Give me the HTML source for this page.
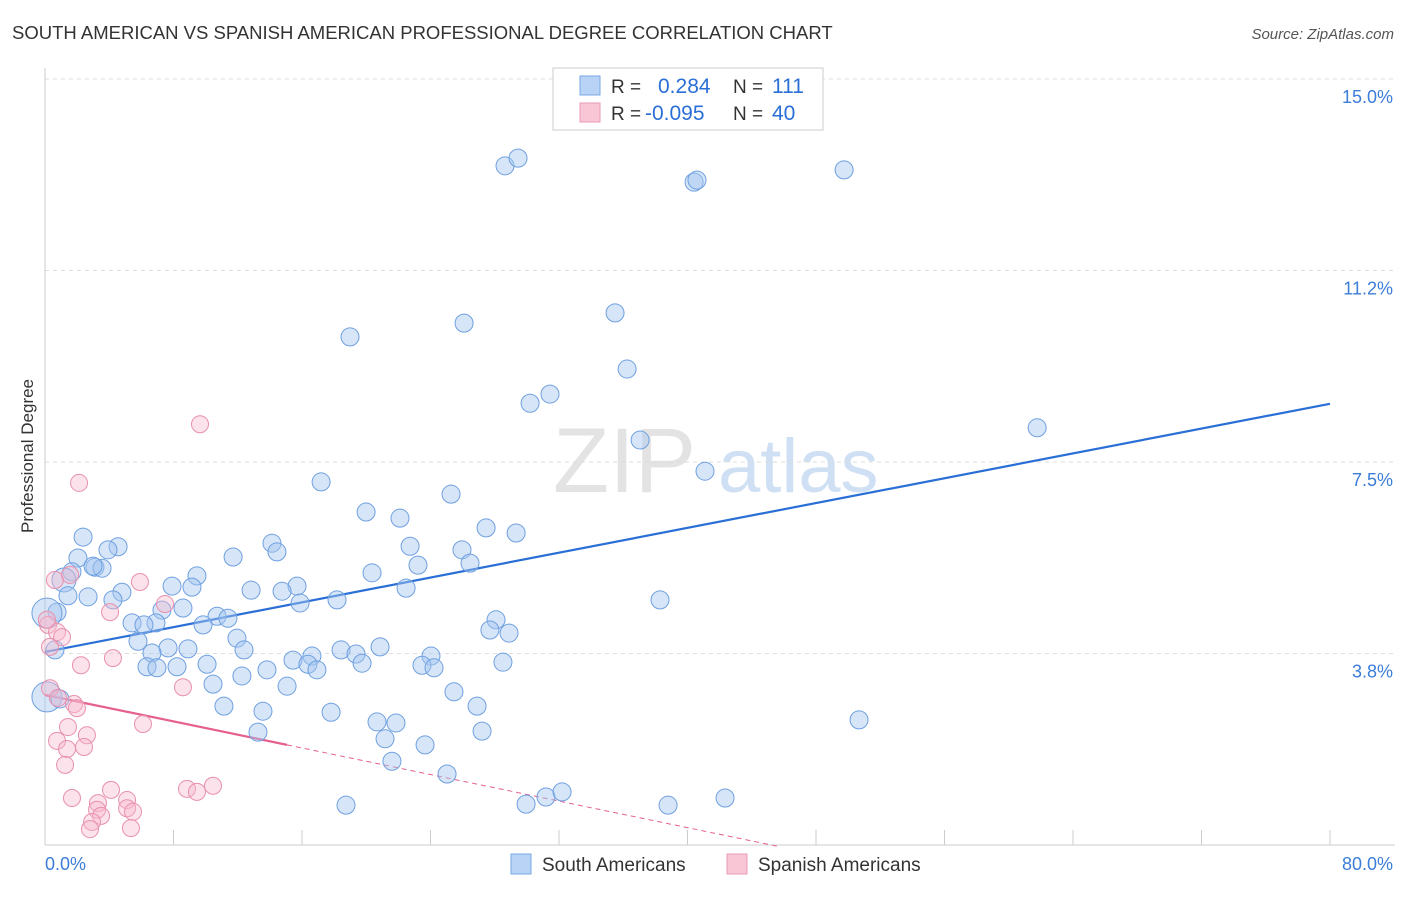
<!DOCTYPE html>
<html><head><meta charset="utf-8">
<style>
body{margin:0;background:#fff;font-family:"Liberation Sans",sans-serif;}
svg text{font-family:"Liberation Sans",sans-serif;}
</style></head>
<body>
<svg id="chart" width="1406" height="892" viewBox="0 0 1406 892">
<text x="12" y="39" font-size="18.5" fill="#333">SOUTH AMERICAN VS SPANISH AMERICAN PROFESSIONAL DEGREE CORRELATION CHART</text>
<text x="1394" y="39" font-size="15" fill="#555" font-style="italic" text-anchor="end">Source: ZipAtlas.com</text>
<text x="33" y="456" font-size="17" fill="#333" text-anchor="middle" transform="rotate(-90 33 456)">Professional Degree</text>
<g>
<text x="553" y="492" font-size="92" fill="#d8d8d8" font-family="Liberation Serif,serif" opacity="0.7">ZIP</text>
<text x="718" y="492" font-size="76" fill="#bcd4f0" opacity="0.7">atlas</text>
</g>
<g id="grid"></g>
<g id="axes"></g>
<g id="lines"></g>
<g id="pts"></g>
<g>
<rect x="553" y="68" width="270" height="62" fill="#fff" stroke="#ccc"/>
<rect x="580" y="76" width="20" height="19" fill="#b8d3f5" stroke="#7aa8e6"/>
<rect x="580" y="103" width="20" height="19" fill="#f9c6d6" stroke="#eb9ab5"/>
<text x="611" y="93" font-size="19" fill="#333">R =</text>
<text x="658" y="93" font-size="21" fill="#2a6fd6">0.284</text>
<text x="733" y="93" font-size="19" fill="#333">N =</text>
<text x="772" y="93" font-size="21" fill="#2a6fd6">111</text>
<text x="611" y="120" font-size="19" fill="#333">R =</text>
<text x="645" y="120" font-size="21" fill="#2a6fd6">-0.095</text>
<text x="733" y="120" font-size="19" fill="#333">N =</text>
<text x="772" y="120" font-size="21" fill="#2a6fd6">40</text>
</g>
<g>
<rect x="511" y="854" width="20" height="20" fill="#b8d3f5" stroke="#7aa8e6"/>
<text x="542" y="871" font-size="19" fill="#333">South Americans</text>
<rect x="727" y="854" width="20" height="20" fill="#f9c6d6" stroke="#eb9ab5"/>
<text x="758" y="871" font-size="19" fill="#333">Spanish Americans</text>
</g>
</svg>
<script>
const yTicks=[3.75,7.5,11.25,15];
const yTickLabels=["3.8%","7.5%","11.2%","15.0%"];
const xTicks=[0,8,16,24,32,40,48,56,64,72,80];
const blueX=[28.64,29.45,40.41,40.59,49.75,18.99,26.09,35.49,36.24,30.20,31.44,37.05,41.09,61.77,17.19,25.28,19.99,22.10,27.46,29.33,2.37,4.55,3.92,2.05,11.71,14.13,14.44,22.73,25.96,26.46,23.22,1.68,3.11,3.55,2.99,9.46,20.36,1.18,7.91,15.69,14.76,9.15,12.83,22.48,4.79,2.68,1.43,4.23,7.28,8.59,15.88,18.18,38.29,0.75,0.12,10.71,11.39,9.84,5.42,6.91,6.16,28.08,27.70,28.89,5.79,11.95,7.66,8.90,6.66,12.39,0.62,18.43,19.36,20.86,15.44,16.62,19.74,24.03,10.09,8.22,6.35,6.97,16.37,16.93,23.47,24.22,28.51,13.82,12.26,10.46,15.07,25.46,26.90,11.14,13.57,17.81,20.67,21.85,50.68,13.26,27.21,21.17,23.66,21.60,25.03,18.74,29.95,31.19,32.19,38.79,42.34,0.12,0.93];
const blueY=[13.30,13.45,12.98,13.02,13.22,9.95,10.22,10.42,9.32,8.65,8.83,7.93,7.32,8.17,7.11,6.87,6.52,6.40,6.21,6.11,6.03,5.84,5.78,5.62,5.64,5.91,5.74,5.85,5.78,5.52,5.48,5.35,5.44,5.42,5.46,5.27,5.33,5.19,5.07,5.07,4.97,5.05,4.99,5.03,4.95,4.86,4.88,4.80,4.60,4.64,4.74,4.80,4.80,4.56,4.54,4.48,4.44,4.31,4.35,4.35,4.31,4.41,4.21,4.15,3.99,4.05,3.86,3.84,3.76,3.82,3.82,3.82,3.74,3.88,3.62,3.70,3.56,3.70,3.54,3.49,3.49,3.47,3.54,3.43,3.52,3.47,3.58,3.43,3.31,3.15,3.11,3.00,2.72,2.72,2.62,2.60,2.41,2.39,2.45,2.21,2.23,2.08,1.96,1.64,1.39,0.78,0.80,0.94,1.04,0.78,0.92,2.90,2.86];
const blueBig=[54,111,37];
const pinkX=[9.65,2.12,0.62,1.56,5.91,7.47,4.05,0.19,0.75,1.06,0.31,0.12,2.24,4.23,8.59,0.31,0.81,1.81,1.99,1.43,6.10,2.61,0.75,1.37,2.43,1.25,4.11,8.84,9.46,10.46,1.68,3.30,3.24,5.11,5.11,5.48,3.49,2.93,2.80,5.35];
const pinkY=[8.24,7.09,5.19,5.29,5.15,4.72,4.56,4.31,4.17,4.07,3.88,4.41,3.52,3.66,3.09,3.07,2.88,2.76,2.68,2.31,2.37,2.15,2.04,1.88,1.92,1.57,1.08,1.10,1.04,1.16,0.92,0.82,0.69,0.88,0.72,0.65,0.57,0.45,0.31,0.33];
const blueTrend=[3.78,8.64];
const pinkTrend=[2.94,-0.065];
const pinkSolidEnd=15.07, pinkDashEnd=45.8;

const NS="http://www.w3.org/2000/svg";
const X=v=>45+v*(1330-45)/80;
const Y=v=>845-v*(766/15);
function mk(tag,attrs,parent){const e=document.createElementNS(NS,tag);for(const k in attrs)e.setAttribute(k,attrs[k]);document.getElementById(parent).appendChild(e);return e;}

yTicks.forEach((t,i)=>{
  const g=mk('line',{x1:45,x2:1395,y1:Y(t),y2:Y(t),stroke:'#ddd','stroke-dasharray':'4,4'},'grid');
  
  
  const tx=mk('text',{x:1393,y:Y(t)+24,'font-size':18,fill:'#3b7dd8','text-anchor':'end'},'grid');
  tx.textContent=yTickLabels[i];
  
  
});
let a=mk('line',{x1:45,x2:45,y1:68,y2:845,stroke:'#ccc'},'axes');


a=mk('line',{x1:45,x2:1395,y1:845,y2:845,stroke:'#ccc'},'axes');


xTicks.forEach(t=>{
  const l=mk('line',{x1:X(t),x2:X(t),y1:830,y2:845,stroke:'#ccc'},'axes');
  
  
});
let t0=mk('text',{x:45,y:870,'font-size':18,fill:'#3b7dd8'},'axes');t0.textContent='0.0%';


t0=mk('text',{x:1393,y:870,'font-size':18,fill:'#3b7dd8','text-anchor':'end'},'axes');t0.textContent='80.0%';



let ln=mk('line',{x1:X(0),y1:Y(blueTrend[0]),x2:X(80),y2:Y(blueTrend[1]),stroke:'#2a6fd6','stroke-width':2.2},'lines');


const pv=x=>pinkTrend[0]+pinkTrend[1]*x;
ln=mk('line',{x1:X(0),y1:Y(pv(0)),x2:X(pinkSolidEnd),y2:Y(pv(pinkSolidEnd)),stroke:'#e5608f','stroke-width':2.2},'lines');


ln=mk('line',{x1:X(pinkSolidEnd),y1:Y(pv(pinkSolidEnd)),x2:X(pinkDashEnd),y2:Y(pv(pinkDashEnd)),stroke:'#e5608f','stroke-width':1,'stroke-dasharray':'5,4'},'lines');



blueX.forEach((x,i)=>{
  const r=blueBig.includes(i)?(i===37?12:15):9;
  const c=mk('circle',{cx:X(x),cy:Y(blueY[i]),r:r,fill:'rgba(165,198,240,0.45)',stroke:'#6fa0e0','stroke-width':1},'pts');
  
  
});
pinkX.forEach((x,i)=>{
  const c=mk('circle',{cx:X(x),cy:Y(pinkY[i]),r:8.5,fill:'rgba(248,185,205,0.4)',stroke:'#e890ad','stroke-width':1},'pts');
  
  
});
</script>
</body></html>
